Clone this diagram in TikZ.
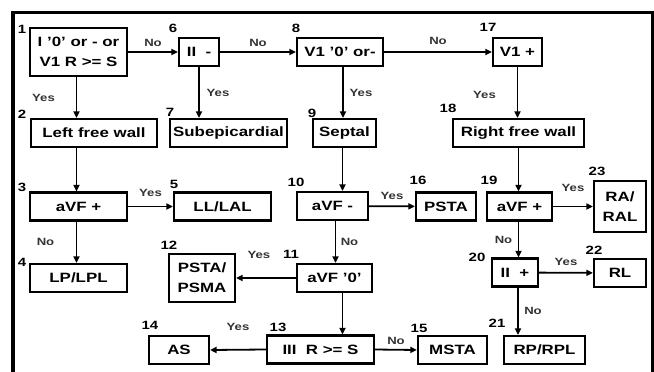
\documentclass[tikz,border=0pt]{standalone}
\usepackage{fontspec}
\setmainfont{Liberation Sans}[FakeStretch=1.25]
\usetikzlibrary{arrows.meta}

\begin{document}
\begin{tikzpicture}[x=1pt, y=-1pt,
    box/.style={
        draw, line width=2.2pt, minimum height=28pt, inner sep=0pt,
        align=center, font=\fontsize{13.5}{20}\selectfont\bfseries
    },
    num/.style={inner sep=0pt, font=\fontsize{12}{12}\selectfont\bfseries},
    arr/.style={-{Triangle[length=6.5pt, width=6pt]}, line width=1.8pt},
    lbl/.style={inner sep=0pt, text=black!80, font=\fontsize{10.5}{12}\selectfont\bfseries},
    frame/.style={line width=3.2pt}
]
\useasboundingbox (0,0) rectangle (654,372);
\draw[frame] (13,374) -- (13,12.5) -- (652.5,12.5) -- (652.5,374);

% =============================================
% TOP ROW: 1 -> 6 -> 8 -> 17
% =============================================
\node[box, minimum width=97pt, minimum height=48pt] (b1) at (78.5,52) {I '0' or - or\\V1 R >= S};
\node[box, minimum width=40pt] (b6) at (199,52) {II\ \ -};
\node[box, minimum width=86pt] (b8) at (340,52) {V1 '0' or-};
\node[box, minimum width=49pt] (b17) at (517.5,52) {V1 +};

\draw[arr] (b1) -- (b6) node[lbl, midway, above=4pt] {No};
\draw[arr] (b6) -- (b8) node[lbl, midway, above=4pt] {No};
\draw[arr] (b8) -- (b17) node[lbl, midway, above=6pt] {No};

% =============================================
% SECOND ROW: walls
% =============================================
\node[box, minimum width=126pt] (b2) at (94,133) {Left free wall};
\node[box, minimum width=117pt] (b7) at (228.5,133) {Subepicardial};
\node[box, minimum width=63pt] (b9) at (344.5,133) {Septal};
\node[box, minimum width=131pt] (b18) at (518.5,133) {Right free wall};

\draw[arr] ([xshift=-2pt]b1.south) -- ([xshift=-2pt]b1.south |- b2.north)
    node[lbl, midway, xshift=-33pt] {Yes};
\draw[arr] (b6.south) -- (b6.south |- b7.north)
    node[lbl, midway, xshift=19pt] {Yes};
\draw[arr] ([xshift=3pt]b8.south) -- ([xshift=3pt]b8.south |- b9.north)
    node[lbl, midway, xshift=18pt] {Yes};
\draw[arr] (b17.south) -- (b17.south |- b18.north)
    node[lbl, pos=0.55, xshift=-33pt] {Yes};

% =============================================
% LEFT: 3, 4, 5
% =============================================
\node[box, minimum width=97pt] (b3) at (78.5,206.5) {aVF +};
\node[box, minimum width=97pt] (b5) at (222.5,206.5) {LL/LAL};
\node[box, minimum width=97pt] (b4) at (78.5,278) {LP/LPL};

\draw[arr] ([xshift=-2pt]b2.south -| b1.south) -- ([xshift=-2pt]b1.south |- b3.north);
\draw[arr] (b3) -- (b5) node[lbl, midway, above=9pt] {Yes};
\draw[arr] ([xshift=-2pt]b3.south) -- ([xshift=-2pt]b3.south |- b4.north)
    node[lbl, midway, xshift=-31pt] {No};

% =============================================
% CENTER: 10, 11, 12, 13, 14, 15, 16
% =============================================
\node[box, minimum width=71pt] (b10) at (332.5,206) {aVF -};
\node[box, minimum width=60pt] (b16) at (446,206.5) {PSTA};
\node[box, minimum width=75pt] (b11) at (334.5,278) {aVF '0'};
\node[box, minimum width=66pt, minimum height=48pt] (b12) at (202,278) {PSTA/\\PSMA};
\node[box, minimum width=107pt] (b13) at (320.5,349.5) {III\ \ R >= S};
\node[box, minimum width=60pt] (b14) at (179,350) {AS};
\node[box, minimum width=69pt] (b15) at (452.5,350) {MSTA};

\draw[arr] ([xshift=-2pt]b9.south) -- ([xshift=-2pt]b9.south |- b10.north);
\draw[arr] (b10) -- (b16) node[lbl, midway, above=6pt] {Yes};
\draw[arr] ([xshift=3pt]b10.south) -- ([xshift=3pt]b10.south |- b11.north)
    node[lbl, midway, xshift=14pt] {No};
\draw[arr] (b11) -- (b12) node[lbl, pos=0.62, above=18pt] {Yes};
\draw[arr] ([xshift=-2pt]b9.south |- b11.south) -- ([xshift=-2pt]b9.south |- b13.north);
\draw[arr] (b13.west) -- (b14.east) node[lbl, midway, above=18pt] {Yes};
\draw[arr] (b13.east) -- (b15.west) node[lbl, midway, above=4pt] {No};

% =============================================
% RIGHT: 19 to 23
% =============================================
\node[box, minimum width=65pt] (b19) at (519.5,206.5) {aVF +};
\node[box, minimum width=52pt, minimum height=51pt] (b23) at (620,206.5) {RA/\\RAL};
\node[box, minimum width=46pt] (b20) at (515,272.5) {II\ \ +};
\node[box, minimum width=52pt] (b22) at (620,273) {RL};
\node[box, minimum width=81pt] (b21) at (544.5,350) {RP/RPL};

\draw[arr] (b18.south) -- (b18.south |- b19.north);
\draw[arr] (b19) -- (b23) node[lbl, midway, above=14pt] {Yes};
\draw[arr] ([xshift=-1pt]b19.south) -- ([xshift=-1pt]b19.south |- b20.north)
    node[lbl, midway, xshift=-15pt] {No};
\draw[arr] (b20) -- (b22) node[lbl, midway, above=6pt] {Yes};
\draw[arr] ([xshift=3pt]b20.south) -- ([xshift=3pt]b20.south |- b21.north)
    node[lbl, midway, xshift=15pt] {No};

% step numbers
\node[num] (t1) at (22,29) {1};
\node[num] (t2) at (22,114) {2};
\node[num] (t3) at (22,187) {3};
\node[num] (t4) at (22,262) {4};
\node[num] (t5) at (174,184) {5};
\node[num] (t6) at (173,28) {6};
\node[num] (t7) at (170,112) {7};
\node[num] (t8) at (296,28) {8};
\node[num] (t9) at (312,113) {9};
\node[num] (t10) at (296,182) {10};
\node[num] (t11) at (291,254) {11};
\node[num] (t12) at (169,245) {12};
\node[num] (t13) at (278,327) {13};
\node[num] (t14) at (150,325) {14};
\node[num] (t15) at (419,328) {15};
\node[num] (t16) at (418,180) {16};
\node[num] (t17) at (488,27) {17};
\node[num] (t18) at (448,108) {18};
\node[num] (t19) at (489,180) {19};
\node[num] (t20) at (477,257) {20};
\node[num] (t21) at (497,323) {21};
\node[num] (t22) at (594,250) {22};
\node[num] (t23) at (597,171) {23};

\end{tikzpicture}
\end{document}
